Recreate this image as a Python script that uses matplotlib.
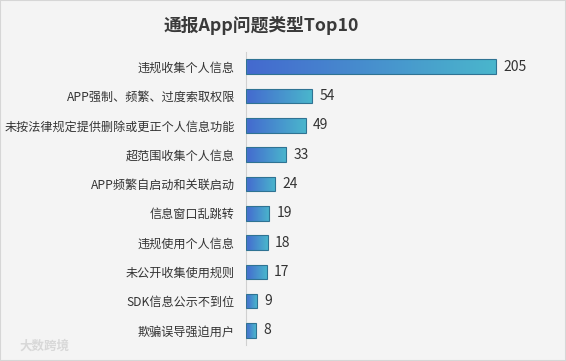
import numpy as np
import matplotlib

matplotlib.use("Agg")
import matplotlib.pyplot as plt
from matplotlib.colors import LinearSegmentedColormap
from matplotlib.patches import Rectangle

plt.rcParams["font.family"] = ["Noto Sans CJK SC", "DejaVu Sans"]

categories = [
    "违规收集个人信息",
    "APP强制、频繁、过度索取权限",
    "未按法律规定提供删除或更正个人信息功能",
    "超范围收集个人信息",
    "APP频繁自启动和关联启动",
    "信息窗口乱跳转",
    "违规使用个人信息",
    "未公开收集使用规则",
    "SDK信息公示不到位",
    "欺骗误导强迫用户",
]
counts = [205, 54, 49, 33, 24, 19, 18, 17, 9, 8]

BG = "#f4f4f4"
TEXT = "#333333"
grad = LinearSegmentedColormap.from_list("bar", ["#4469cf", "#4ab6cc"])

fig = plt.figure(figsize=(5.66, 3.61), dpi=100, facecolor=BG)
fig.patches.append(Rectangle((0, 0), 1, 1, transform=fig.transFigure,
                             fill=False, edgecolor="#d6d6d6", linewidth=1.5))
ax = fig.add_axes([0.4346, 0.044, 0.4955, 0.812])
ax.set_facecolor(BG)

y = np.arange(len(categories))
bars = ax.barh(y, counts, height=0.5, color="none", edgecolor="#2f7393",
               linewidth=0.8, zorder=3)

gradient = np.linspace(0, 1, 256).reshape(1, -1)
for bar in bars:
    x0, y0 = bar.get_x(), bar.get_y()
    w, h = bar.get_width(), bar.get_height()
    im = ax.imshow(gradient, cmap=grad, aspect="auto", zorder=2,
                   extent=(x0, x0 + w, y0 + h, y0), interpolation="bilinear")
    im.set_clip_path(bar)
    ax.text(x0 + w + 6, y0 + h / 2, str(w), va="center", ha="left",
            fontsize=10, color=TEXT)

ax.set_xlim(0, 230)
ax.set_ylim(len(categories) - 0.5, -0.5)
ax.set_yticks(y)
ax.set_yticklabels(categories, fontsize=8.7, color=TEXT)
ax.tick_params(axis="y", length=0, pad=8)
ax.set_xticks([])
for side in ["top", "right", "bottom"]:
    ax.spines[side].set_visible(False)
ax.spines["left"].set_color("#d0d0d0")

fig.text(0.461, 0.93, "通报App问题类型Top10", ha="center", va="center",
         fontsize=12.8, fontweight="bold", color="#3a3a3a")
fig.text(0.035, 0.04, "大数跨境", ha="left", va="center", fontsize=9,
         color="#d8d8d8", fontweight="bold")

fig.savefig("out.png", dpi=100, facecolor=BG)
